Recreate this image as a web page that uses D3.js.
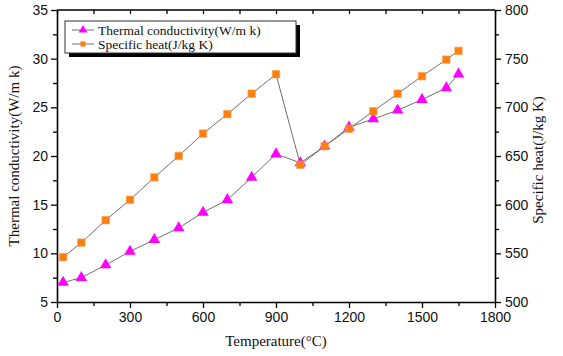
<!DOCTYPE html>
<html><head><meta charset="utf-8">
<script src="https://cdn.jsdelivr.net/npm/d3@7"></script>
<style>
html,body{margin:0;padding:0;background:#fff;}
svg{display:block;}
</style></head>
<body>
<svg id="chart" width="563" height="356"></svg>
<script>
const temperatures = [25, 100, 200, 300, 400, 500, 600, 700, 800, 900, 1000, 1100, 1200, 1300, 1400, 1500, 1600, 1650];
const thermalConductivity = [7.0, 7.5, 8.8, 10.2, 11.4, 12.6, 14.2, 15.5, 17.8, 20.2, 19.3, 21.0, 22.95, 23.8, 24.7, 25.8, 27.0, 28.4];
const specificHeat = [546, 561, 584, 605, 628, 650, 673, 693, 714, 734, 641, 660, 678, 696, 714, 732, 749, 758];
const xTicks = [0, 300, 600, 900, 1200, 1500, 1800];
const leftTicks = [5, 10, 15, 20, 25, 30, 35];
const rightTicks = [500, 550, 600, 650, 700, 750, 800];
const seriesNames = ["Thermal conductivity(W/m k)", "Specific heat(J/kg K)"];
const xTitle = "Temperature(°C)";
const leftTitle = "Thermal conductivity(W/m k)";
const rightTitle = "Specific heat(J/kg K)";

const svg = d3.select("#chart");
const L = 57, R = 495, T = 10, B = 302;
const x = d3.scaleLinear().domain([0, 1800]).range([L, R]);
const yL = d3.scaleLinear().domain([5, 35]).range([B, T]);
const yR = d3.scaleLinear().domain([500, 800]).range([B, T]);

const sansFont = "'Liberation Sans', Arial, sans-serif";
const serifFont = "'Liberation Serif', 'Times New Roman', serif";
const fmt = d3.format("d");

function styleAxis(g){
  g.selectAll(".domain").attr("stroke","#000").attr("stroke-width",1.6);
  g.selectAll(".tick line").attr("stroke","#000").attr("stroke-width",1.3);
  g.selectAll(".tick text").attr("font-family",sansFont).attr("font-size","14px").attr("fill","#111");
}
function minorTicks(domain, step){
  const out=[]; for(let v=domain[0]; v<=domain[1]+1e-9; v+=step) out.push(v); return out;
}
function styleMinor(g){ g.select(".domain").remove(); g.selectAll("line").attr("stroke","#000").attr("stroke-width",1.3); }

// minor ticks
const xMinor = minorTicks([0,1800],150).filter(v => v % 300 !== 0);
svg.append("g").attr("transform",`translate(0,${B})`)
  .call(d3.axisBottom(x).tickValues(xMinor).tickSize(4).tickFormat("")).call(styleMinor);
svg.append("g").attr("transform",`translate(0,${T})`)
  .call(d3.axisBottom(x).tickValues(minorTicks([0,1800],150)).tickSize(4).tickFormat("")).call(styleMinor);
const lMinor = minorTicks([5,35],2.5).filter(v => (v % 5) !== 0);
svg.append("g").attr("transform",`translate(${L},0)`)
  .call(d3.axisLeft(yL).tickValues(lMinor).tickSize(4).tickFormat("")).call(styleMinor);
const rMinor = minorTicks([500,800],25).filter(v => (v % 50) !== 0);
svg.append("g").attr("transform",`translate(${R},0)`)
  .call(d3.axisRight(yR).tickValues(rMinor).tickSize(4).tickFormat("")).call(styleMinor);

// top frame line
svg.append("line").attr("x1",L).attr("x2",R).attr("y1",T).attr("y2",T).attr("stroke","#000").attr("stroke-width",1.6);

// major axes
svg.append("g").attr("transform",`translate(0,${B})`)
  .call(d3.axisBottom(x).tickValues(xTicks).tickFormat(fmt).tickSize(6).tickSizeOuter(0).tickPadding(4))
  .call(styleAxis);
svg.append("g").attr("transform",`translate(${L},0)`)
  .call(d3.axisLeft(yL).tickValues(leftTicks).tickFormat(fmt).tickSize(6).tickSizeOuter(0).tickPadding(3))
  .call(styleAxis);
svg.append("g").attr("transform",`translate(${R},0)`)
  .call(d3.axisRight(yR).tickValues(rightTicks).tickFormat(fmt).tickSize(6).tickSizeOuter(0).tickPadding(4))
  .call(styleAxis);

// axis titles
svg.append("text").attr("x",276).attr("y",346).attr("text-anchor","middle")
  .attr("font-family",serifFont).attr("font-size","15px").attr("fill","#111").text(xTitle);
svg.append("text").attr("transform","translate(19,156) rotate(-90)").attr("text-anchor","middle")
  .attr("font-family",serifFont).attr("font-size","15px").attr("fill","#111").text(leftTitle);
svg.append("text").attr("transform","translate(543,160) rotate(-90)").attr("text-anchor","middle")
  .attr("font-family",serifFont).attr("font-size","15px").attr("fill","#111").text(rightTitle);

// series
const tcData = temperatures.map((t,i)=>({t, v: thermalConductivity[i]}));
const shData = temperatures.map((t,i)=>({t, v: specificHeat[i]}));
const lineColor = "#707070";
svg.append("path").datum(tcData).attr("fill","none").attr("stroke",lineColor).attr("stroke-width",1)
  .attr("d", d3.line().x(d=>x(d.t)).y(d=>yL(d.v)));
svg.append("path").datum(shData).attr("fill","none").attr("stroke",lineColor).attr("stroke-width",1)
  .attr("d", d3.line().x(d=>x(d.t)).y(d=>yR(d.v)));

const tri = d3.symbol().type(d3.symbolTriangle).size(58);
const sq = d3.symbol().type(d3.symbolSquare).size(56);
svg.append("g").selectAll("path").data(tcData).join("path")
  .attr("d", tri).attr("transform", d=>`translate(${x(d.t)},${yL(d.v)})`).attr("fill","#ff00ff");
svg.append("g").selectAll("path").data(shData).join("path")
  .attr("d", sq).attr("transform", d=>`translate(${x(d.t)},${yR(d.v)})`).attr("fill","#ff7f0e").attr("stroke","#f5a050").attr("stroke-width",0.6);

// legend
const lg = svg.append("g");
lg.append("rect").attr("x",69).attr("y",25).attr("width",231).attr("height",32).attr("fill","#000");
lg.append("rect").attr("x",65).attr("y",21).attr("width",231).attr("height",32).attr("fill","#fff").attr("stroke","#333").attr("stroke-width",1);
const rows = [
  {name: seriesNames[0], sym: d3.symbol().type(d3.symbolTriangle).size(34), color:"#ff00ff", y:30},
  {name: seriesNames[1], sym: d3.symbol().type(d3.symbolSquare).size(26), color:"#ff7f0e", y:44}
];
rows.forEach(r=>{
  lg.append("line").attr("x1",72).attr("x2",94).attr("y1",r.y).attr("y2",r.y).attr("stroke",lineColor).attr("stroke-width",1);
  lg.append("path").attr("d",r.sym).attr("transform",`translate(83,${r.y})`).attr("fill",r.color);
  lg.append("text").attr("x",98).attr("y",r.y+4.5).attr("font-family",serifFont).attr("font-size","13.5px").attr("fill","#111").text(r.name);
});
</script>
</body></html>
